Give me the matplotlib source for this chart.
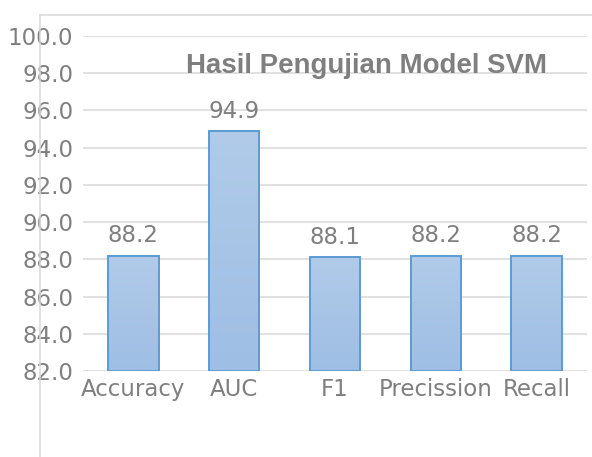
import numpy as np
import matplotlib

matplotlib.use("Agg")
import matplotlib.pyplot as plt
from matplotlib.lines import Line2D

categories = ["Accuracy", "AUC", "F1", "Precission", "Recall"]
scores = [88.2, 94.9, 88.1, 88.2, 88.2]
y_ticks = [82.0, 84.0, 86.0, 88.0, 90.0, 92.0, 94.0, 96.0, 98.0, 100.0]
title_text = "Hasil Pengujian Model SVM"

TEXT_GRAY = "#7f7f7f"
GRID_GRAY = "#d9d9d9"
EDGE_BLUE = "#5b9bd5"
TOP_FILL = np.array([0xb1, 0xcb, 0xe9]) / 255.0
BOTTOM_FILL = np.array([0x9e, 0xbe, 0xe4]) / 255.0

W, H = 592, 457
fig = plt.figure(figsize=(W / 100, H / 100), dpi=100)
ax = fig.add_axes([83 / W, 1 - 371 / H, 504 / W, 335 / H])

y_min, y_max = y_ticks[0], y_ticks[-1]
x = np.arange(len(categories))
bar_width = 0.5

# vertical gradient for bar fill
t = np.linspace(0, 1, 256)[:, None]
gradient = TOP_FILL * (1 - t[..., None]) + BOTTOM_FILL * t[..., None]
gradient = gradient.reshape(256, 1, 3)

for xi, val in zip(x, scores):
    ax.imshow(
        gradient,
        extent=(xi - bar_width / 2, xi + bar_width / 2, y_min, val),
        aspect="auto",
        zorder=2,
        interpolation="bilinear",
    )
bars = ax.bar(
    x,
    [v - y_min for v in scores],
    bottom=y_min,
    width=bar_width,
    facecolor="none",
    edgecolor=EDGE_BLUE,
    linewidth=1.4,
    zorder=3,
)

for xi, val in zip(x, scores):
    ax.annotate(
        f"{val:.1f}",
        (xi, val),
        xytext=(0, 6),
        textcoords="offset points",
        ha="center",
        va="bottom",
        fontsize=16.5,
        color=TEXT_GRAY,
        family="DejaVu Sans",
    )

ax.set_xlim(-0.5, len(categories) - 0.5)
ax.set_ylim(y_min, y_max)
ax.set_yticks(y_ticks)
ax.set_yticklabels([f"{v:.1f}" for v in y_ticks])
ax.set_xticks(x)
ax.set_xticklabels(categories)
ax.tick_params(axis="both", length=0, labelsize=16.5, labelcolor=TEXT_GRAY)
ax.tick_params(axis="y", pad=7)
ax.tick_params(axis="x", pad=5)
ax.grid(axis="y", color=GRID_GRAY, linewidth=1.1, zorder=0)
ax.set_axisbelow(True)
for spine in ax.spines.values():
    spine.set_visible(False)
ax.set_facecolor("none")

ax.text(
    (367 - 83) / 504,
    1 - (73.5 - 36) / 335,
    title_text,
    transform=ax.transAxes,
    ha="center",
    va="baseline",
    fontsize=19.9,
    fontweight="bold",
    color=TEXT_GRAY,
    family="Liberation Sans",
)

# partial chart-area border (top and left)
fig.add_artist(Line2D([40 / W, 1.0], [1 - 15 / H, 1 - 15 / H], color=GRID_GRAY, linewidth=1.1))
fig.add_artist(Line2D([40 / W, 40 / W], [1 - 15 / H, 0.0], color=GRID_GRAY, linewidth=1.1))

fig.savefig("out.png", dpi=100)
plt.close(fig)
